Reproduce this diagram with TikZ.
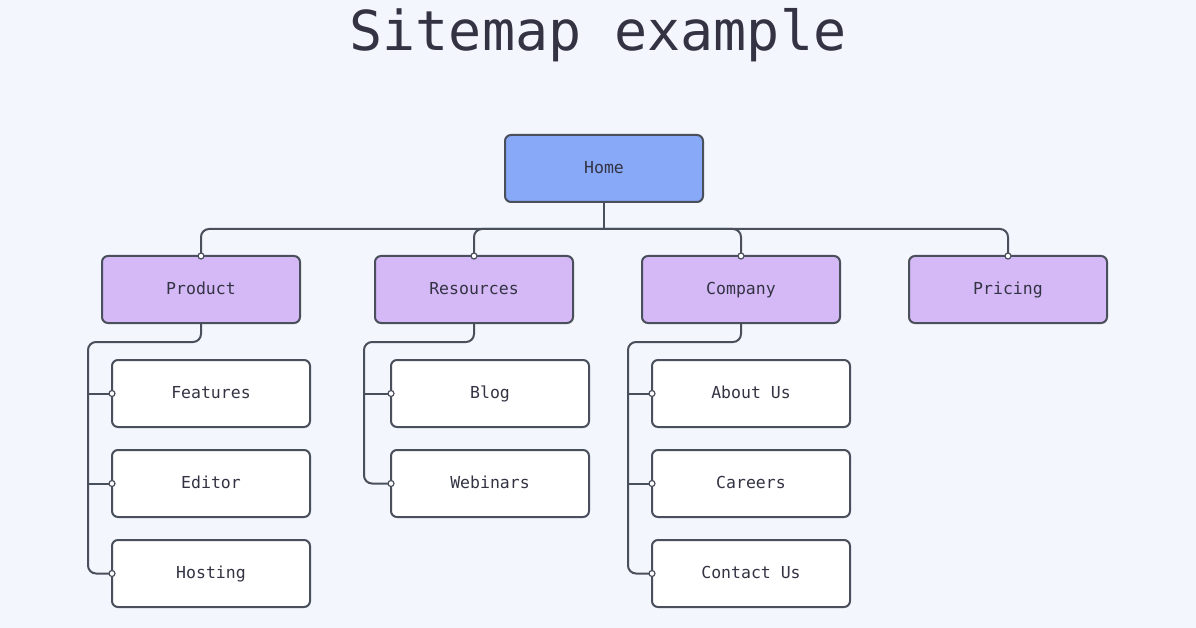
\documentclass[tikz,border=0pt]{standalone}
\usepackage{fontspec}
\setmonofont{DejaVu Sans Mono}
\begin{document}
\begin{tikzpicture}[x=1pt,y=-1pt,
  box/.style={draw=edge,line width=2pt,rounded corners=6pt,minimum width=198pt,minimum height=67pt,font=\ttfamily\fontsize{16.5}{16.5}\selectfont,text=txt,anchor=north west,inner sep=0pt,outer sep=0pt,text height=2.4ex,text depth=0pt},
  wire/.style={draw=edge,line width=2pt,rounded corners=8pt},
  dot/.style={circle,draw=edge,fill=white,line width=1.2pt,inner sep=0pt,minimum size=6pt}]
\definecolor{bg}{HTML}{F3F6FC}
\definecolor{edge}{HTML}{4A4F5C}
\definecolor{txt}{HTML}{333344}
\definecolor{homec}{HTML}{88A9F8}
\definecolor{lvl}{HTML}{D4B9F6}
\fill[bg] (0,0) rectangle (1196,628);
\useasboundingbox (0,0) rectangle (1196,628);
\node[font=\ttfamily\fontsize{55}{55}\selectfont,text=txt] (title) at (598,35) {Sitemap example};
\node[box,fill=homec] (home) at (505,135) {Home};
\node[box,fill=lvl] (prod) at (102,256) {Product};
\node[box,fill=lvl] (res) at (375,256) {Resources};
\node[box,fill=lvl] (comp) at (642,256) {Company};
\node[box,fill=lvl] (pri) at (909,256) {Pricing};
\foreach \n/\t/\x/\y in {f/Features/112/360,e/Editor/112/450,h/Hosting/112/540,b/Blog/391/360,w/Webinars/391/450,a/About Us/652/360,c/Careers/652/450,ct/Contact Us/652/540}
  \node[box,fill=white] (\n) at (\x,\y) {\t};
\coordinate (bus) at (604,229);
\draw[wire] (home.south) -- (home.south |- bus);
\foreach \n in {prod,res,comp,pri}
  \draw[wire] (bus) -| (\n.north);
\draw[wire] (prod.south) |- (88,342) |- (h.west);
\draw[wire] (f.west -| 89,0) -- (f.west);
\draw[wire] (e.west -| 89,0) -- (e.west);
\draw[wire] (res.south) |- (364,342) |- (w.west);
\draw[wire] (b.west -| 365,0) -- (b.west);
\draw[wire] (comp.south) |- (628,342) |- (ct.west);
\draw[wire] (a.west -| 629,0) -- (a.west);
\draw[wire] (c.west -| 629,0) -- (c.west);
\foreach \n in {prod,res,comp,pri} \node[dot] at (\n.north) {};
\foreach \n in {f,e,h,b,w,a,c,ct} \node[dot] at (\n.west) {};
\end{tikzpicture}
\end{document}
